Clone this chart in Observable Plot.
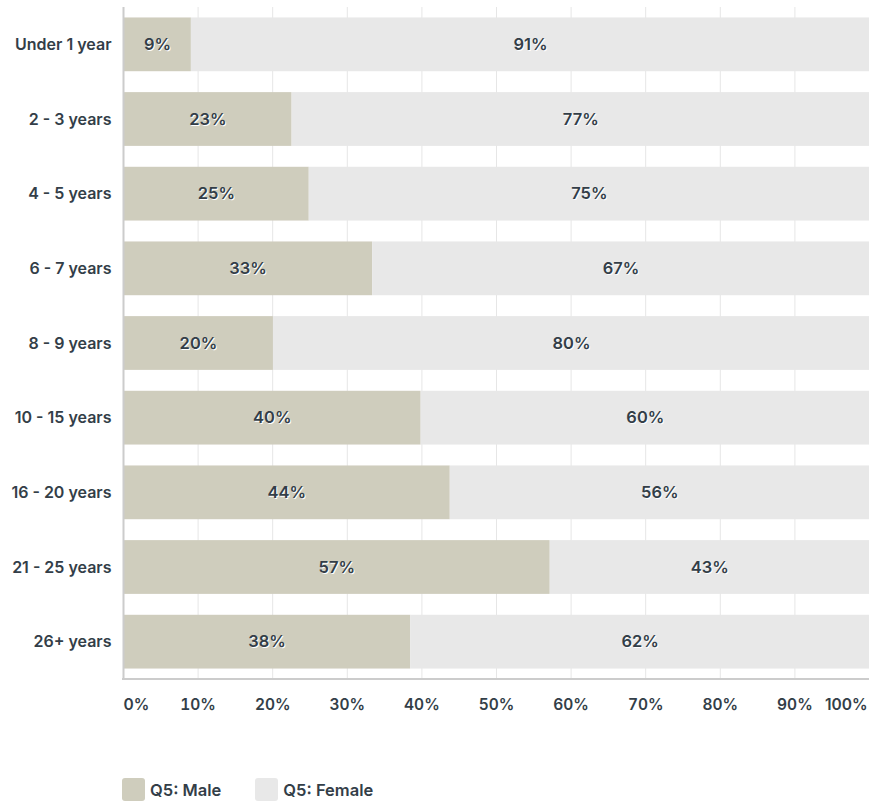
<!DOCTYPE html>
<html><head><meta charset="utf-8">
<script src="https://cdn.jsdelivr.net/npm/d3@7"></script>
<script src="https://cdn.jsdelivr.net/npm/@observablehq/plot@0.6"></script>
<style>
body{margin:0;background:#fff;font-family:Inter,"Noto Sans",sans-serif;}
#legend{display:flex;gap:0;margin-left:122px;margin-top:58px;font-weight:600;font-size:16.5px;color:#333e48;}
.item{display:flex;align-items:center;margin-right:34px;}
.sw{width:23px;height:23px;border-radius:3px;margin-right:5px;}
</style></head><body>
<div id="chart"></div>
<div id="legend"></div>
<script>
const categories = ["Under 1 year","2 - 3 years","4 - 5 years","6 - 7 years","8 - 9 years","10 - 15 years","16 - 20 years","21 - 25 years","26+ years"];
const male = [9.1,22.6,24.9,33.4,20.1,39.9,43.8,57.2,38.5];
const maleLabel = [9,23,25,33,20,40,44,57,38];
const femaleLabel = [91,77,75,67,80,60,56,43,62];
const series = ["Q5: Male","Q5: Female"];
const colors = ["#cfcdbd","#e8e8e8"];
const ticks = [0,10,20,30,40,50,60,70,80,90,100];

const rows = [];
categories.forEach((c,i)=>{
  rows.push({cat:c, series:series[0], label:maleLabel[i], x1:0, x2:male[i]});
  rows.push({cat:c, series:series[1], label:femaleLabel[i], x1:male[i], x2:100});
});
const txt = "#333e48";
const ff = "Inter, 'Noto Sans', sans-serif";
const plot = Plot.plot({
  width:869, height:720,
  marginLeft:123, marginRight:0, marginTop:7, marginBottom:41,
  style:{fontFamily:ff, fontSize:"15px", fontWeight:600, color:txt, background:"#fff"},
  x:{domain:[0,100], axis:null},
  y:{domain:categories, paddingInner:0.28, paddingOuter:0.14, round:false, label:null},
  color:{domain:series, range:colors},
  marks:[
    Plot.ruleX(ticks,{stroke:"#e6e6e6", strokeWidth:1}),
    Plot.barX(rows,{y:"cat", x1:"x1", x2:"x2", fill:"series"}),
    Plot.ruleX([0],{stroke:"#cccccc", strokeWidth:2}),
    Plot.text(rows,{y:"cat", x:d=>(d.x1+d.x2)/2, text:d=>d.label+"%", fill:"white", dx:1, dy:1, fontSize:16.5, fontWeight:600}),
    Plot.text(rows,{y:"cat", x:d=>(d.x1+d.x2)/2, text:d=>d.label+"%", fill:txt, fontSize:16.5, fontWeight:600}),
    Plot.axisY({tickSize:0, tickPadding:12, fontSize:16, fontWeight:600, fill:txt, label:null}),
    Plot.axisX(ticks.slice(1,-1),{tickSize:0, tickPadding:19, tickFormat:d=>d+"%", fontSize:15.5, fill:txt, label:null}),
    Plot.text([0],{x:d=>d, frameAnchor:"bottom", lineAnchor:"top", dy:19, text:d=>d+"%", textAnchor:"start", fill:txt, fontSize:15.5}),
    Plot.text([100],{x:d=>d, frameAnchor:"bottom", lineAnchor:"top", dy:19, text:d=>d+"%", textAnchor:"end", dx:-2, fill:txt, fontSize:15.5})
  ]
});
document.getElementById("chart").appendChild(plot);
const svg = d3.select(plot);
svg.append("line").attr("x1",122).attr("x2",869).attr("y1",679).attr("y2",679).attr("stroke","#cccccc").attr("stroke-width",2);
const lg = document.getElementById("legend");
series.forEach((s,i)=>{
  const it=document.createElement("div");it.className="item";
  it.innerHTML=`<div class="sw" style="background:${colors[i]}"></div><span>${s}</span>`;
  lg.appendChild(it);
});
</script>
</body></html>
